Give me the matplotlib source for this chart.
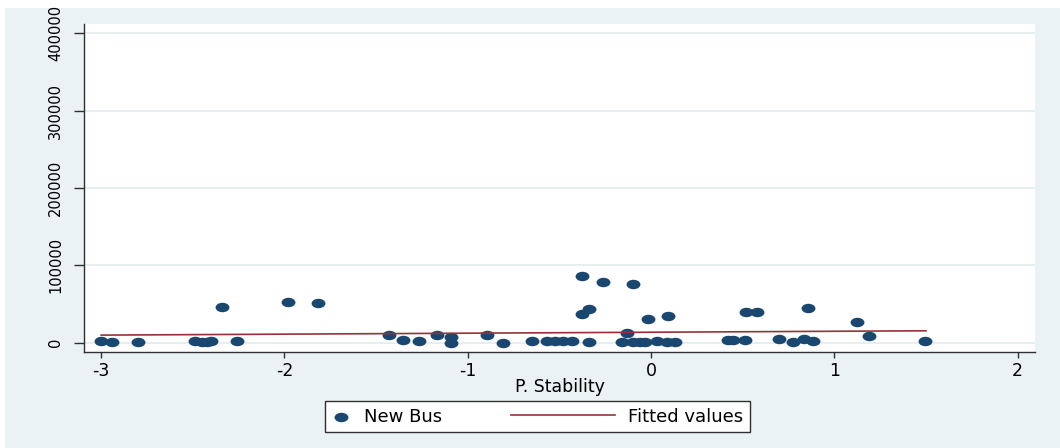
import numpy as np
import matplotlib
matplotlib.use('Agg')
import matplotlib.pyplot as plt
from matplotlib.markers import MarkerStyle
from matplotlib.transforms import Affine2D
from matplotlib.legend_handler import HandlerLine2D
from matplotlib.patches import Rectangle

# political stability score vs. new business registrations
stability = [-3.00, -2.94, -2.80, -2.49, -2.45, -2.42, -2.40, -2.34, -2.26,
             -1.98, -1.815, -1.43, -1.355, -1.264, -1.17, -1.09, -1.09, -0.896,
             -0.806, -0.65, -0.57, -0.524, -0.48, -0.43, -0.378, -0.375, -0.337,
             -0.337, -0.26, -0.16, -0.133, -0.098, -0.06, -0.033, -0.10, -0.018,
             0.031, 0.086, 0.13, 0.091, 0.42, 0.45, 0.513, 0.517, 0.58, 0.70,
             0.773, 0.835, 0.858, 0.885, 1.122, 1.19, 1.495]
new_bus = [1800, 1300, 1300, 1800, 300, 500, 1800, 46500, 2200,
           52200, 51700, 9600, 3900, 1800, 9600, 7400, 200, 9600,
           200, 1800, 2200, 2200, 2200, 2200, 86200, 37500, 44000,
           900, 78500, 900, 12500, 900, 900, 900, 75500, 31000,
           2600, 900, 900, 34900, 3900, 3900, 3900, 40100, 39300, 4400,
           900, 4400, 45300, 1800, 26800, 8700, 1800]

# linear fit over the observed range
fit_x = [-3.0, 1.5]
fit_y = [9800, 15400]

x_ticks = [-3, -2, -1, 0, 1, 2]
y_ticks = [0, 100000, 200000, 300000, 400000]

NAVY = '#1a476f'
MAROON = '#983238'
REGION = '#eaf2f3'
GRID = '#e4edef'
AXIS = '#303030'

W, H = 1060, 448


class WideLineHandler(HandlerLine2D):
    """Legend line that reaches further left than its handle box."""

    def __init__(self, extra, **kw):
        super().__init__(**kw)
        self.extra = extra

    def create_artists(self, legend, orig_handle, xdescent, ydescent,
                       width, height, fontsize, trans):
        artists = super().create_artists(legend, orig_handle, xdescent, ydescent,
                                         width, height, fontsize, trans)
        for a in artists:
            xd = np.asarray(a.get_xdata(), float)
            a.set_xdata(np.linspace(xd[0] - self.extra * fontsize, xd[-1], len(xd)))
        return artists


fig = plt.figure(figsize=(W / 100, H / 100), dpi=100)
fig.add_artist(Rectangle((5 / W, 0), 1, (H - 8) / H, transform=fig.transFigure,
                         facecolor=REGION, edgecolor='none', zorder=-10))

ax = fig.add_axes([84.3 / W, (H - 351.7) / H, (1035 - 84.3) / W, (351.7 - 24.3) / H])
ax.set_facecolor('white')

dot = MarkerStyle('o', transform=Affine2D().scale(1.0, 0.68))
pts = ax.scatter(stability, new_bus, s=100, marker=dot, color=NAVY,
                 linewidths=0, zorder=3)
fit_line, = ax.plot(fit_x, fit_y, color=MAROON, lw=1.2, zorder=4)

ax.set_xlim(-3.092, 2.095)
ax.set_ylim(-11640, 411700)
ax.set_xticks(x_ticks, labels=[str(v) for v in x_ticks])
ax.set_yticks(y_ticks, labels=[str(v) for v in y_ticks])

ax.yaxis.grid(True, color=GRID, lw=1.3)
ax.set_axisbelow(True)

for side in ('top', 'right'):
    ax.spines[side].set_visible(False)
for side in ('left', 'bottom'):
    ax.spines[side].set_color(AXIS)
    ax.spines[side].set_linewidth(1.0)

ax.tick_params(axis='x', length=4.3, width=1, pad=3, labelsize=12.5, color=AXIS)
ax.tick_params(axis='y', length=7.2, width=1, pad=8, labelsize=10.5, color=AXIS,
               labelrotation=90)
for lab in ax.get_yticklabels():
    lab.set_va('center')

ax.set_xlabel('P. Stability', fontsize=12.5, labelpad=-1.5)

leg = fig.legend([pts, fit_line], ['New Bus', 'Fitted values'], ncols=2,
                 loc='center left', bbox_to_anchor=(325 / W, 1 - 416.5 / H),
                 borderaxespad=0, frameon=True, fancybox=False, edgecolor=AXIS,
                 framealpha=1, fontsize=13, scatterpoints=1, handlelength=1.04,
                 handletextpad=0.75, columnspacing=8.5, borderpad=0.38,
                 handler_map={fit_line: WideLineHandler(4.7)})
leg.get_frame().set_linewidth(1.0)

fig.savefig('out.png', dpi=100)
